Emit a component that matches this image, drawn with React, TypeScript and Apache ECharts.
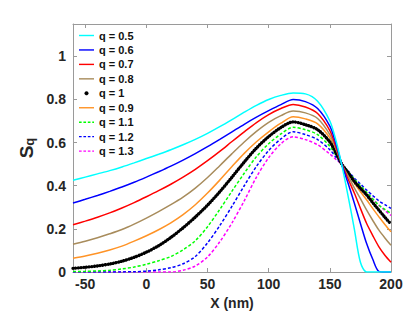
import React, { useEffect, useRef } from "react";
import * as echarts from "echarts";

const xs = [-60, -50, -40, -30, -20, -10, 0, 10, 20, 30, 40, 50, 60, 70, 80, 90, 100, 110, 120, 130, 140, 150, 155, 160, 165, 170, 175, 180, 185, 190, 195, 200];

const q05 = [0.425, 0.44, 0.455, 0.47, 0.487, 0.506, 0.526, 0.546, 0.567, 0.59, 0.615, 0.643, 0.674, 0.707, 0.741, 0.773, 0.80, 0.819, 0.83, 0.826, 0.792, 0.70, 0.61, 0.49, 0.35, 0.20, 0.045, 0, 0, 0, 0, 0];
const q06 = [0.32, 0.337, 0.355, 0.374, 0.394, 0.416, 0.44, 0.465, 0.491, 0.519, 0.549, 0.581, 0.615, 0.65, 0.685, 0.718, 0.748, 0.776, 0.80, 0.79, 0.758, 0.676, 0.595, 0.495, 0.41, 0.32, 0.225, 0.133, 0.06, 0.003, 0, 0];
const q07 = [0.219, 0.236, 0.254, 0.274, 0.297, 0.322, 0.349, 0.377, 0.407, 0.44, 0.476, 0.516, 0.559, 0.605, 0.65, 0.693, 0.73, 0.758, 0.777, 0.765, 0.735, 0.656, 0.58, 0.497, 0.43, 0.366, 0.295, 0.226, 0.17, 0.118, 0.078, 0.045];
const q08 = [0.129, 0.143, 0.159, 0.177, 0.197, 0.222, 0.25, 0.28, 0.312, 0.347, 0.389, 0.438, 0.493, 0.549, 0.603, 0.652, 0.694, 0.725, 0.746, 0.738, 0.712, 0.637, 0.57, 0.497, 0.445, 0.39, 0.34, 0.288, 0.24, 0.195, 0.158, 0.124];
const q10 = [0.017, 0.022, 0.028, 0.037, 0.05, 0.068, 0.092, 0.122, 0.16, 0.205, 0.255, 0.31, 0.372, 0.44, 0.51, 0.575, 0.628, 0.67, 0.696, 0.683, 0.66, 0.603, 0.552, 0.498, 0.46, 0.42, 0.388, 0.358, 0.322, 0.288, 0.254, 0.222];
const q09 = [0.064, 0.074, 0.087, 0.102, 0.12, 0.143, 0.168, 0.196, 0.228, 0.266, 0.312, 0.366, 0.426, 0.489, 0.55, 0.604, 0.65, 0.69, 0.72, 0.71, 0.687, 0.622, 0.562, 0.498, 0.455, 0.412, 0.372, 0.335, 0.295, 0.257, 0.22, 0.186];
const q11 = [0.002, 0.003, 0.005, 0.008, 0.014, 0.023, 0.036, 0.052, 0.072, 0.103, 0.145, 0.21, 0.29, 0.375, 0.458, 0.535, 0.595, 0.64, 0.671, 0.66, 0.637, 0.583, 0.542, 0.498, 0.465, 0.43, 0.40, 0.37, 0.34, 0.31, 0.29, 0.272];
const q12 = [0, 0, 0, 0, 0.0005, 0.001, 0.004, 0.01, 0.02, 0.038, 0.072, 0.135, 0.215, 0.305, 0.40, 0.49, 0.563, 0.617, 0.65, 0.637, 0.614, 0.567, 0.532, 0.498, 0.468, 0.435, 0.408, 0.38, 0.355, 0.33, 0.312, 0.295];
const q13 = [0, 0, 0, 0, 0, 0, 0, 0, 0, 0.008, 0.028, 0.07, 0.14, 0.228, 0.33, 0.44, 0.53, 0.595, 0.627, 0.614, 0.59, 0.547, 0.522, 0.498, 0.462, 0.425, 0.395, 0.365, 0.338, 0.31, 0.285, 0.262];

const seriesNames = ["q = 0.5", "q = 0.6", "q = 0.7", "q = 0.8", "q = 1", "q = 0.9", "q = 1.1", "q = 1.2", "q = 1.3"];
const seriesValues = [q05, q06, q07, q08, q10, q09, q11, q12, q13];
const seriesColors = ["#00ffff", "#0000ff", "#ff0000", "#a88c5c", "#000000", "#ff9326", "#00ff00", "#0000ff", "#ff00ff"];
const seriesKinds = ["solid", "solid", "solid", "solid", "dots", "solid", "dash", "dash", "dash"];

const FONT = "'Liberation Sans', Arial, sans-serif";
const AXIS_COLOR = "#9a9a9a";
const TEXT_COLOR = "#262626";

const ICON_SOLID = "path://M0,0h17v1.6h-17z";
const ICON_DASH = "path://M0,0h3v1.6h-3z M5,0h3v1.6h-3z M10,0h3v1.6h-3z M15,0h2v1.6h-2z";

export default function App() {
  const ref = useRef<HTMLDivElement>(null);
  useEffect(() => {
    if (!ref.current) return;
    const chart = echarts.init(ref.current, undefined, { renderer: "svg" });
    const series = seriesNames.map((name, i) => {
      const kind = seriesKinds[i];
      const lineStyle: any = { color: seriesColors[i], width: 1.5 };
      if (kind === "dash") lineStyle.type = [3, 2];
      if (kind === "dots") {
        lineStyle.width = 3.4;
        lineStyle.type = [0.01, 2.7];
        lineStyle.cap = "round";
      }
      return {
        name,
        type: "line",
        xAxisIndex: 0,
        yAxisIndex: 0,
        data: xs.map((x, j) => [x, seriesValues[i][j]]),
        symbol: "none",
        smooth: 0.3,
        color: seriesColors[i],
        itemStyle: { color: seriesColors[i] },
        lineStyle,
        z: 10 - i,
      };
    });
    const legendData = seriesNames.map((name, i) => {
      const kind = seriesKinds[i];
      const icon = kind === "dots" ? "circle" : kind === "dash" ? ICON_DASH : ICON_SOLID;
      return { name, icon, itemStyle: { color: seriesColors[i], borderWidth: 0 } };
    });
    const tickCommon = { inside: true, length: 4, lineStyle: { color: AXIS_COLOR } };
    const option: any = {
      animation: false,
      backgroundColor: "#ffffff",
      grid: { left: 73, right: 18, top: 24, bottom: 44, containLabel: false },
      legend: {
        orient: "vertical",
        left: 79,
        top: 30,
        padding: 0,
        itemWidth: 15,
        itemHeight: 4,
        itemGap: 3.45,
        symbolKeepAspect: true,
        data: legendData,
        textStyle: { fontFamily: FONT, fontWeight: "bold", fontSize: 11, color: "#111" },
      },
      xAxis: [
        {
          type: "value",
          min: -60,
          max: 200,
          splitNumber: 5,
          position: "bottom",
          name: "X (nm)",
          nameLocation: "middle",
          nameGap: 18,
          nameTextStyle: { fontFamily: FONT, fontWeight: "bold", fontSize: 14, color: TEXT_COLOR },
          axisLine: { show: true, onZero: false, lineStyle: { color: AXIS_COLOR, width: 1 } },
          axisTick: tickCommon,
          splitLine: { show: false },
          axisLabel: {
            fontFamily: FONT,
            fontWeight: "bold",
            fontSize: 14,
            color: TEXT_COLOR,
            margin: 5,
            showMinLabel: false,
            formatter: (v: number) => (v % 50 === 0 ? String(v) : ""),
          },
        },
        {
          type: "value",
          min: -60,
          max: 200,
          splitNumber: 5,
          position: "top",
          axisLine: { show: true, onZero: false, lineStyle: { color: AXIS_COLOR, width: 1 } },
          axisTick: tickCommon,
          axisLabel: { show: false },
          splitLine: { show: false },
        },
      ],
      yAxis: [
        {
          type: "value",
          min: 0,
          max: 1.15,
          splitNumber: 6,
          position: "left",
          name: "{s|S}{q|q}",
          nameLocation: "middle",
          nameGap: 36,
          nameRotate: 90,
          nameTextStyle: {
            rich: {
              s: { fontFamily: FONT, fontWeight: "bold", fontSize: 19, color: TEXT_COLOR, verticalAlign: "top", lineHeight: 19 },
              q: { fontFamily: FONT, fontWeight: "bold", fontSize: 13, color: TEXT_COLOR, verticalAlign: "bottom", lineHeight: 13, padding: [11, 0, 0, 0] },
            },
          },
          axisLine: { show: true, onZero: false, lineStyle: { color: AXIS_COLOR, width: 1 } },
          axisTick: tickCommon,
          splitLine: { show: false },
          axisLabel: {
            fontFamily: FONT,
            fontWeight: "bold",
            fontSize: 14,
            color: TEXT_COLOR,
            margin: 7,
            showMaxLabel: false,
            formatter: (v: number) => (v > 1.05 ? "" : String(Math.round(v * 10) / 10)),
          },
        },
        {
          type: "value",
          min: 0,
          max: 1.15,
          splitNumber: 6,
          position: "right",
          axisLine: { show: true, onZero: false, lineStyle: { color: AXIS_COLOR, width: 1 } },
          axisTick: tickCommon,
          axisLabel: { show: false },
          splitLine: { show: false },
        },
      ],
      series,
    };
    chart.setOption(option);
    return () => chart.dispose();
  }, []);
  return <div ref={ref} style={{ width: 409, height: 316, position: "absolute", left: 0, top: 0 }} />;
}
